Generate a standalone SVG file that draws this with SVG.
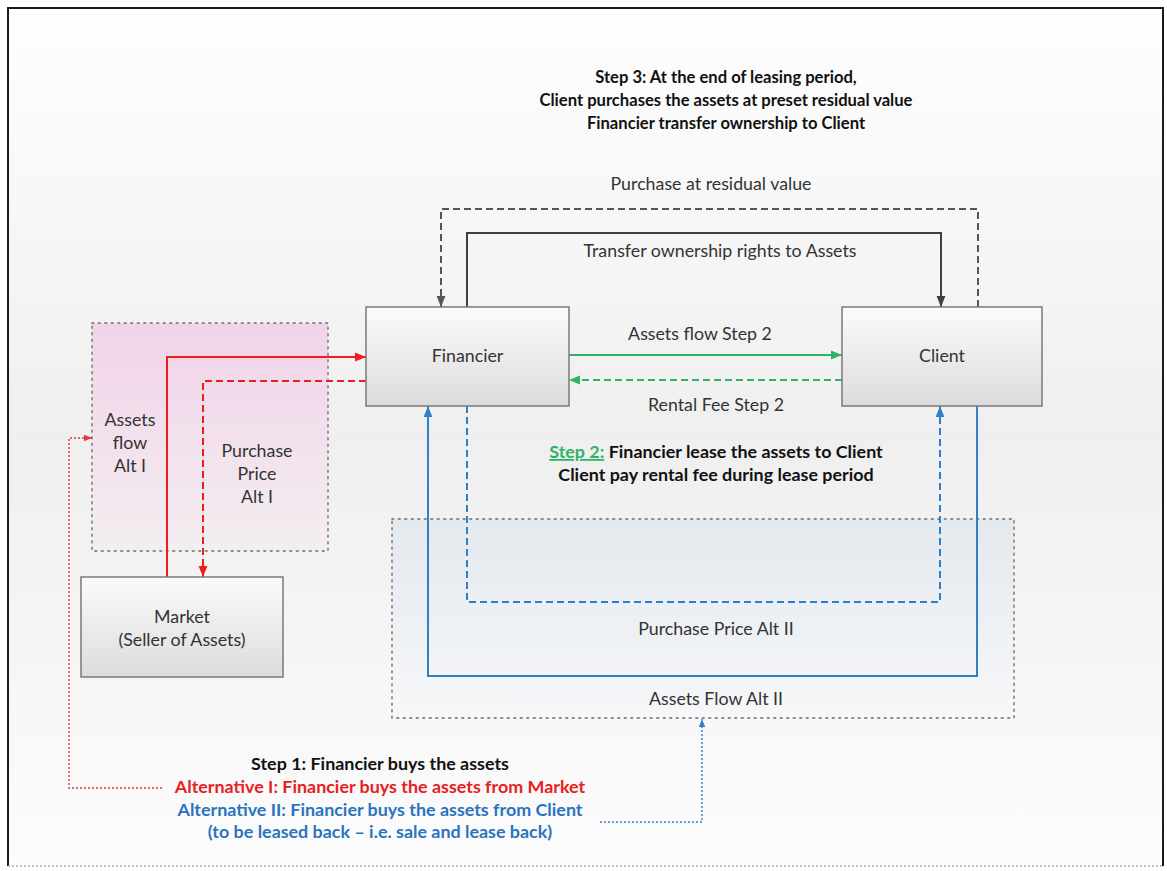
<svg xmlns="http://www.w3.org/2000/svg" width="1167" height="871" viewBox="0 0 1167 871">
<defs>
  <linearGradient id="bg" x1="0" y1="0" x2="0" y2="1">
    <stop offset="0" stop-color="#fefefe"/>
    <stop offset="0.5" stop-color="#efefef"/>
    <stop offset="1" stop-color="#fcfcfc"/>
  </linearGradient>
  <linearGradient id="boxg" x1="0" y1="0" x2="0" y2="1">
    <stop offset="0" stop-color="#fbfbfb"/>
    <stop offset="1" stop-color="#dcdcdc"/>
  </linearGradient>
  <linearGradient id="pinkg" x1="0" y1="0" x2="0" y2="1">
    <stop offset="0" stop-color="#f1d3e8"/>
    <stop offset="1" stop-color="#f3eef1"/>
  </linearGradient>
  <linearGradient id="blueg" x1="0" y1="0" x2="0" y2="1">
    <stop offset="0" stop-color="#e4e9ee"/>
    <stop offset="1" stop-color="#f6f7f9"/>
  </linearGradient>
  <marker id="mRed" viewBox="0 0 10 10" refX="10" refY="5" markerWidth="11" markerHeight="11" markerUnits="userSpaceOnUse" orient="auto"><path d="M0,1 L10,5 L0,9 z" fill="#ee1c1c"/></marker>
  <marker id="mGreen" viewBox="0 0 10 10" refX="10" refY="5" markerWidth="11" markerHeight="11" markerUnits="userSpaceOnUse" orient="auto"><path d="M0,1 L10,5 L0,9 z" fill="#2fb466"/></marker>
  <marker id="mBlue" viewBox="0 0 10 10" refX="10" refY="5" markerWidth="11" markerHeight="11" markerUnits="userSpaceOnUse" orient="auto"><path d="M0,1 L10,5 L0,9 z" fill="#2f7fcb"/></marker>
  <marker id="mDark" viewBox="0 0 10 10" refX="10" refY="5" markerWidth="11" markerHeight="11" markerUnits="userSpaceOnUse" orient="auto"><path d="M0,1 L10,5 L0,9 z" fill="#404040"/></marker>
  <marker id="mGray" viewBox="0 0 10 10" refX="10" refY="5" markerWidth="11" markerHeight="11" markerUnits="userSpaceOnUse" orient="auto"><path d="M0,1 L10,5 L0,9 z" fill="#555555"/></marker>
  <marker id="mRedS" viewBox="0 0 10 10" refX="10" refY="5" markerWidth="8" markerHeight="8" markerUnits="userSpaceOnUse" orient="auto"><path d="M0,1 L10,5 L0,9 z" fill="#e03a3a"/></marker>
  <marker id="mBlueS" viewBox="0 0 10 10" refX="10" refY="5" markerWidth="8" markerHeight="8" markerUnits="userSpaceOnUse" orient="auto"><path d="M0,1 L10,5 L0,9 z" fill="#2f7fcb"/></marker>
</defs>
<style>
  text { font-family: Lato, "Open Sans", "Liberation Sans", sans-serif; fill: #333333; }
  .lbl { font-size: 17.8px; text-anchor: middle; }
  .bold { font-size: 17.9px; font-weight: bold; text-anchor: middle; fill: #111111; }
  .s3 { font-size: 16.6px; }
  .box { fill: url(#boxg); stroke: #7a7a7a; stroke-width: 1.5; }
  .grp { stroke: #8a8a8a; stroke-width: 1.8; stroke-dasharray: 1.5,5; stroke-linecap: round; }
  .c { fill: none; stroke-width: 2; }
  .dash { stroke-dasharray: 7,4; }
  .dot { stroke-width: 1.4; stroke-dasharray: 2,2; }
</style>

<!-- background and frame -->
<rect x="8" y="8" width="1155" height="858" fill="url(#bg)"/>
<path d="M8,866 V8 H1163 V866" fill="none" stroke="#1a1a1a" stroke-width="2"/>
<line x1="8" y1="866" x2="1163" y2="866" stroke="#aaaaaa" stroke-width="1.5" stroke-dasharray="2,2"/>

<!-- group areas -->
<g id="area-alt1">
  <rect x="92" y="323" width="236" height="228" fill="url(#pinkg)" class="grp"/>
</g>
<g id="area-alt2">
  <rect x="392" y="519" width="622" height="199" fill="url(#blueg)" class="grp"/>
</g>

<!-- step texts -->
<g id="step3-text">
  <text class="bold s3" x="726" y="83">Step 3: At the end of leasing period,</text>
  <text class="bold s3" x="726" y="106">Client purchases the assets at preset residual value</text>
  <text class="bold s3" x="726" y="129">Financier transfer ownership to Client</text>
</g>
<g id="step2-text">
  <text class="bold" x="716" y="458"><tspan fill="#2fb466" text-decoration="underline">Step 2:</tspan> Financier lease the assets to Client</text>
  <text class="bold" x="716" y="481">Client pay rental fee during lease period</text>
</g>
<g id="step1-text">
  <text class="bold" x="380" y="770">Step 1: Financier buys the assets</text>
  <text class="bold" x="380" y="793" style="fill:#e8201c">Alternative I: Financier buys the assets from Market</text>
  <text class="bold" x="380" y="816" style="fill:#2a74bd">Alternative II: Financier buys the assets from Client</text>
  <text class="bold" x="380" y="838" style="fill:#2a74bd">(to be leased back – i.e. sale and lease back)</text>
</g>

<!-- connectors -->
<g id="connectors">
  <path class="c dash" d="M978,307 V209 H441 V307" stroke="#555555" marker-end="url(#mGray)"/>
  <path class="c" d="M467,307 V233 H941 V307" stroke="#404040" marker-end="url(#mDark)"/>
  <path class="c" d="M569,355 H842" stroke="#2fb466" marker-end="url(#mGreen)"/>
  <path class="c dash" d="M842,380 H569" stroke="#2fb466" marker-end="url(#mGreen)"/>
  <path class="c" d="M167,577 V357 H366" stroke="#ee1c1c" marker-end="url(#mRed)"/>
  <path class="c dash" d="M366,381 H203 V577" stroke="#ee1c1c" marker-end="url(#mRed)"/>
  <path class="c" d="M977,406 V676 H428 V406" stroke="#2f7fcb" marker-end="url(#mBlue)"/>
  <path class="c dash" d="M467,406 V602 H940 V406" stroke="#2f7fcb" marker-end="url(#mBlue)"/>
  <path class="c dot" d="M162,788 H69 V438 H92" stroke="#e03a3a" marker-end="url(#mRedS)"/>
  <path class="c dot" d="M600,822 H702 V719" stroke="#2f7fcb" marker-end="url(#mBlueS)"/>
  <text class="lbl" x="711" y="190">Purchase at residual value</text>
  <text class="lbl" x="720" y="257">Transfer ownership rights to Assets</text>
  <text class="lbl" x="700" y="340">Assets flow Step 2</text>
  <text class="lbl" x="716" y="411">Rental Fee Step 2</text>
  <text class="lbl" x="130" y="426">Assets</text>
  <text class="lbl" x="130" y="449">flow</text>
  <text class="lbl" x="130" y="472">Alt I</text>
  <text class="lbl" x="257" y="457">Purchase</text>
  <text class="lbl" x="257" y="480">Price</text>
  <text class="lbl" x="257" y="503">Alt I</text>
  <text class="lbl" x="716" y="635">Purchase Price Alt II</text>
  <text class="lbl" x="716" y="705">Assets Flow Alt II</text>
</g>

<!-- nodes -->
<g id="financier">
  <rect class="box" x="366" y="307" width="203" height="99"/>
  <text class="lbl" x="467.5" y="362">Financier</text>
</g>
<g id="client">
  <rect class="box" x="842" y="307" width="200" height="99"/>
  <text class="lbl" x="942" y="362">Client</text>
</g>
<g id="market">
  <rect class="box" x="81" y="577" width="202" height="100"/>
  <text class="lbl" x="182" y="623">Market</text>
  <text class="lbl" x="182" y="646">(Seller of Assets)</text>
</g>
</svg>
